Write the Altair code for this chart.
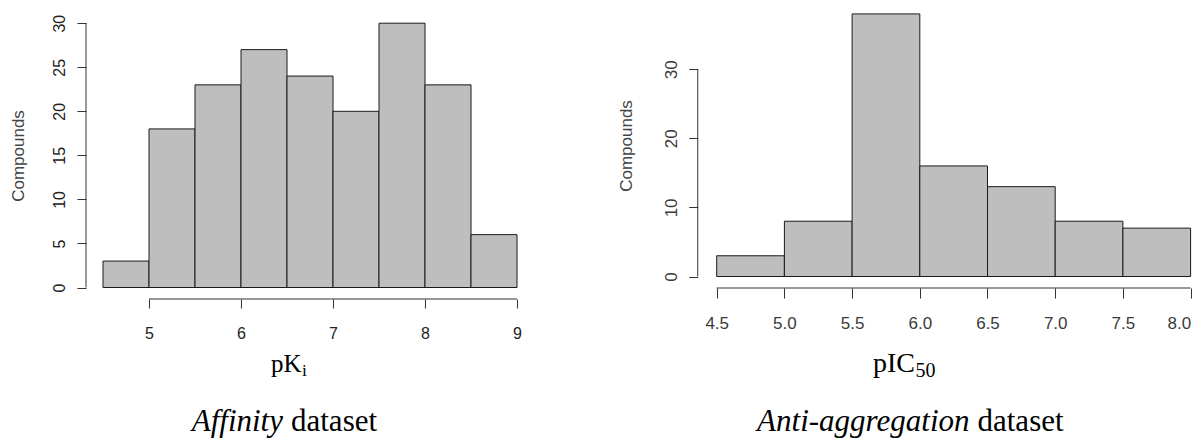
import altair as alt
import pandas as pd

# ---------------- data ----------------
aff_bin_start = [4.5, 5.0, 5.5, 6.0, 6.5, 7.0, 7.5, 8.0, 8.5]
aff_counts = [3, 18, 23, 27, 24, 20, 30, 23, 6]
anti_bin_start = [4.5, 5.0, 5.5, 6.0, 6.5, 7.0, 7.5]
anti_counts = [3, 8, 38, 16, 13, 8, 7]
bin_width = 0.5

aff_xticks = [5, 6, 7, 8, 9]
aff_yticks = [0, 5, 10, 15, 20, 25, 30]
anti_xticks = [4.5, 5.0, 5.5, 6.0, 6.5, 7.0, 7.5, 8.0]
anti_yticks = [0, 10, 20, 30]

y_title = "Compounds"
aff_xlabel, aff_xsub = "pK", "i"
anti_xlabel, anti_xsub = "pIC", "50"
aff_cap_it, anti_cap_it, cap_rest = "Affinity", "Anti-aggregation", "dataset"

# ---------------- layout (pixels) ----------------
W, H = 1110, 291
PAD_L, PAD_R, PAD_B = 78, 0, 140
SANS, SERIF = "Liberation Sans", "Liberation Serif"

# left panel scale geometry
L_ppu, L_x45 = 92.0, 17.0
L_yppu, L_y0 = 8.81, 279.5
# right panel scale geometry
R_ppu, R_x45 = 135.4, 630.7
R_yppu, R_y0 = 6.91, 268.5
R_axis_x = R_x45 - 0.14 * R_ppu
R_xaxis_y = 280

xsL = alt.Scale(domain=[4.5 - L_x45 / L_ppu, 4.5 + (W - L_x45) / L_ppu], nice=False, zero=False)
ysL = alt.Scale(domain=[-(H - L_y0) / L_yppu, L_y0 / L_yppu], nice=False, zero=False)
xsR = alt.Scale(domain=[4.5 - R_x45 / R_ppu, 4.5 + (W - R_x45) / R_ppu], nice=False, zero=False)
ysR = alt.Scale(domain=[-(H - R_y0) / R_yppu, R_y0 / R_yppu], nice=False, zero=False)

aff = pd.DataFrame({"start": aff_bin_start,
                    "end": [s + bin_width for s in aff_bin_start],
                    "count": aff_counts})
anti = pd.DataFrame({"start": anti_bin_start,
                     "end": [s + bin_width for s in anti_bin_start],
                     "count": anti_counts})

common_axis = dict(domain=False, grid=False, title=None,
                   labelOverlap=False, tickColor="#333333", tickWidth=1,
                   labelFont=SANS, labelBaseline="middle")

axLx = alt.Axis(values=aff_xticks, orient="bottom", format="d", tickSize=9,
                labelPadding=25, labelColor="#222222", labelFontSize=16,
                labelFlush=False, **common_axis)
axLy = alt.Axis(values=aff_yticks, orient="left", format="d", tickSize=9,
                labelAngle=270, labelAlign="center", labelPadding=18,
                labelColor="#222222", labelFontSize=16, labelFlush=False, **common_axis)
axRx = alt.Axis(values=anti_xticks, orient="bottom", format=".1f", tickSize=10,
                offset=-(H - R_xaxis_y), labelPadding=25, labelColor="#3a3a3a",
                labelFontSize=17, labelFlush=8, **common_axis)
axRy = alt.Axis(values=anti_yticks, orient="left", format="d", tickSize=9,
                offset=-R_axis_x, labelAngle=270, labelAlign="center",
                labelPadding=17, labelColor="#3a3a3a", labelFontSize=17,
                labelFlush=False, **common_axis)

bar_style = dict(fill="#bebebe", stroke="#1a1a1a", strokeWidth=1)
line_style = dict(color="#333333", strokeWidth=1)

# ---------- left panel ----------
left_bars = alt.Chart(aff).mark_rect(**bar_style).encode(
    x=alt.X("start:Q", scale=xsL, axis=axLx),
    x2="end:Q",
    y=alt.Y("count:Q", scale=ysL, axis=axLy),
    y2=alt.datum(0),
)
left_xline = alt.Chart(pd.DataFrame({"a": [aff_xticks[0]], "b": [aff_xticks[-1]]})).mark_rule(**line_style).encode(
    x=alt.X("a:Q", scale=xsL, axis=None), x2="b:Q", y=alt.value(H))
left_yline = alt.Chart(pd.DataFrame({"a": [aff_yticks[0]], "b": [aff_yticks[-1]]})).mark_rule(**line_style).encode(
    y=alt.Y("a:Q", scale=ysL, axis=None), y2="b:Q", x=alt.value(0))

# ---------- right panel ----------
right_bars = alt.Chart(anti).mark_rect(**bar_style).encode(
    x=alt.X("start:Q", scale=xsR, axis=axRx),
    x2="end:Q",
    y=alt.Y("count:Q", scale=ysR, axis=axRy),
    y2=alt.datum(0),
)
right_xline = alt.Chart(pd.DataFrame({"a": [anti_xticks[0]], "b": [anti_xticks[-1]]})).mark_rule(**line_style).encode(
    x=alt.X("a:Q", scale=xsR, axis=None), x2="b:Q", y=alt.value(R_xaxis_y))
right_yline = alt.Chart(pd.DataFrame({"a": [anti_yticks[0]], "b": [anti_yticks[-1]]})).mark_rule(**line_style).encode(
    y=alt.Y("a:Q", scale=ysR, axis=None), y2="b:Q", x=alt.value(R_axis_x))


# ---------- texts ----------
def txt(s, x, y, size, font=SANS, color="#000000", style="normal", align="left",
        baseline="alphabetic", angle=0):
    return alt.Chart(pd.DataFrame({"t": [s]})).mark_text(
        font=font, fontSize=size, color=color, fontStyle=style, align=align,
        baseline=baseline, angle=angle).encode(
        text="t:N", x=alt.value(x), y=alt.value(y))


texts = [
    txt(y_title, -67, 148, 17, color="#444444", align="center", baseline="middle", angle=270),
    txt(y_title, 541, 138, 17, color="#444444", align="center", baseline="middle", angle=270),
    txt(aff_xlabel, 185, 364, 25, font=SERIF),
    txt(aff_xsub, 216, 368, 17.5, font=SERIF),
    txt(anti_xlabel, 787, 364, 28, font=SERIF),
    txt(anti_xsub, 829.5, 368.5, 20, font=SERIF),
    txt(aff_cap_it, 197, 423, 31, font=SERIF, style="italic", align="right"),
    txt(cap_rest, 205, 423, 31, font=SERIF),
    txt(anti_cap_it, 883.5, 423, 31, font=SERIF, style="italic", align="right"),
    txt(cap_rest, 891.5, 423, 31, font=SERIF),
]

chart = alt.layer(
    left_bars, left_xline, left_yline, right_bars, right_xline, right_yline, *texts
).resolve_scale(
    x="independent", y="independent"
).resolve_axis(
    x="independent", y="independent"
).properties(
    width=W, height=H,
    autosize=alt.AutoSizeParams(type="none"),
    padding={"left": PAD_L, "top": 0, "right": PAD_R, "bottom": PAD_B},
    background="white",
).configure_view(stroke=None)

chart.save("out.html", embed_options={"renderer": "svg", "actions": False})
